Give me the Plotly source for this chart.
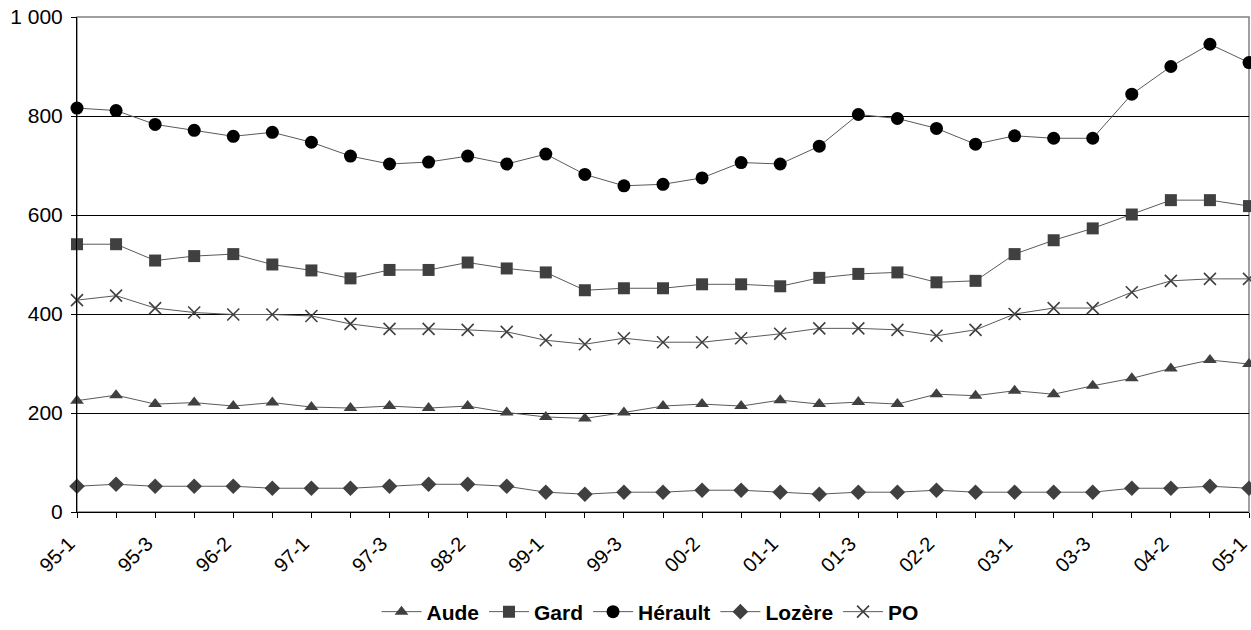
import plotly.graph_objects as go

periods = ["95-1", "95-2", "95-3", "96-1", "96-2", "96-3", "97-1", "97-2", "97-3",
           "98-1", "98-2", "98-3", "99-1", "99-2", "99-3", "00-1", "00-2", "00-3",
           "01-1", "01-2", "01-3", "02-1", "02-2", "02-3", "03-1", "03-2", "03-3",
           "04-1", "04-2", "04-3", "05-1"]

aude = [225, 236, 218, 221, 214, 221, 212, 210, 214, 210, 214, 201, 192, 189, 201, 214,
        218, 214, 226, 218, 222, 218, 238, 235, 245, 238, 255, 270, 290, 307, 299]
gard = [541, 541, 508, 517, 521, 500, 488, 472, 489, 489, 504, 492, 484, 448, 452, 452,
        460, 460, 456, 473, 481, 484, 464, 467, 521, 549, 573, 601, 630, 630, 618]
herault = [816, 811, 783, 771, 759, 767, 747, 719, 703, 707, 719, 703, 723, 682, 659, 662,
           675, 706, 703, 739, 803, 795, 775, 743, 760, 755, 755, 844, 900, 945, 908]
lozere = [52, 56, 52, 52, 52, 48, 48, 48, 52, 56, 56, 52, 40, 36, 40, 40,
          44, 44, 40, 36, 40, 40, 44, 40, 40, 40, 40, 48, 48, 52, 48]
po = [428, 437, 412, 403, 399, 399, 396, 380, 370, 370, 368, 364, 347, 339, 351, 343,
      343, 351, 360, 371, 371, 368, 356, 368, 400, 412, 412, 444, 467, 471, 471]

series = [
    ("Aude", aude, "triangle-up", 12, "#404040"),
    ("Gard", gard, "square", 12, "#404040"),
    ("Hérault", herault, "circle", 13, "#000000"),
    ("Lozère", lozere, "diamond", 12, "#404040"),
    ("PO", po, "x-thin-open", 12, "#404040"),
]

fig = go.Figure()
for name, vals, sym, size, col in series:
    marker = dict(symbol=sym, size=size, color=col)
    if sym.endswith("open"):
        marker["line"] = dict(color=col, width=1.6)
    else:
        marker["line"] = dict(width=0)
    fig.add_trace(go.Scatter(
        x=periods, y=vals, name=name, mode="lines+markers",
        line=dict(color="#5a5a5a", width=1),
        marker=marker, cliponaxis=False,
    ))

ticktext = [p if i % 2 == 0 else "" for i, p in enumerate(periods)]

fig.update_layout(
    width=1251, height=630,
    margin=dict(l=77, r=2, t=17, b=118, autoexpand=False),
    paper_bgcolor="white", plot_bgcolor="white",
    font=dict(family="Liberation Sans, Arial, sans-serif", size=21, color="black"),
    separators=", ",
    showlegend=True,
    legend=dict(orientation="h", xref="container", x=650 / 1251, xanchor="center",
                yref="container", y=(630 - 612) / 630, yanchor="middle",
                font=dict(size=21, family="Liberation Sans, Arial, sans-serif", weight="bold"),
                itemwidth=40, tracegroupgap=0),
    xaxis=dict(type="category", range=[0, len(periods) - 1], automargin=False,
               tickmode="array", tickvals=periods, ticktext=ticktext,
               tickangle=-45, ticks="outside", ticklen=5, tickcolor="black",
               ticklabelshift=-8, ticklabelstandoff=6, ticklabeloverflow="allow",
               showline=True, linecolor="black", linewidth=1,
               showgrid=False, zeroline=False, tickfont=dict(size=20)),
    yaxis=dict(range=[0, 1000], tickvals=[0, 200, 400, 600, 800, 1000], automargin=False,
               tickformat=",d", ticks="outside", ticklen=5, tickcolor="black",
               ticklabelstandoff=4, ticklabeloverflow="allow",
               showline=True, linecolor="black", linewidth=1,
               showgrid=True, gridcolor="black", gridwidth=1, zeroline=False,
               tickfont=dict(size=21)),
    shapes=[dict(type="rect", xref="paper", yref="paper", x0=0, x1=1, y0=0, y1=1,
                 line=dict(color="#808080", width=1.5), layer="below")],
)

# remove the default 8px page margin so the 1251x630 figure fills the window exactly
fig.write_html("out.html", config={"displayModeBar": False},
               post_script="document.body.style.margin='0';document.body.style.overflow='hidden';")
